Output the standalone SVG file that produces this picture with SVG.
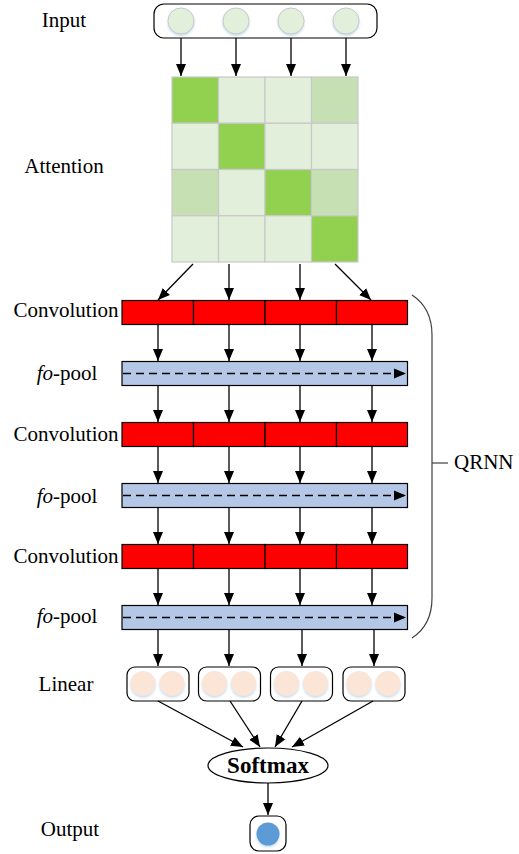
<svg xmlns="http://www.w3.org/2000/svg" width="519" height="854" viewBox="0 0 519 854">
<style>
.lbl{font-family:"Liberation Serif","Times New Roman",serif;font-size:21px;fill:#000;text-anchor:middle}
.box{fill:#fff;stroke:#000;stroke-width:1.2}
.conv{fill:#ff0000;stroke:#000;stroke-width:1.2}
.pool{fill:#b4c7e7;stroke:#000;stroke-width:1.2}
.cd{fill:#92d050;stroke:#c8c8c8;stroke-width:1.2}
.cl{fill:#e2efda;stroke:#c8c8c8;stroke-width:1.2}
.cm{fill:#c6e0b4;stroke:#c8c8c8;stroke-width:1.2}
.ic{fill:#e2efda;stroke:#c9c9c9;stroke-width:1}
.lc{fill:#fbe5d6;stroke:none}
.ar{stroke:#000;stroke-width:1.3;fill:none;marker-end:url(#ah)}
.dash{stroke:#000;stroke-width:1.3;fill:none;stroke-dasharray:8,5;marker-end:url(#ah)}
</style>
<defs>
<marker id="ah" markerUnits="userSpaceOnUse" markerWidth="14" markerHeight="14" viewBox="0 0 14 14" refX="12" refY="7" orient="auto">
<path d="M0,2 L12,7 L0,12 Z" fill="#000"/>
</marker>
<filter id="sh" x="-30%" y="-30%" width="160%" height="170%">
<feDropShadow dx="0" dy="1.5" stdDeviation="1.2" flood-color="#9dc3e6" flood-opacity="0.6"/>
</filter>
</defs>

<g id="labels">
<text class="lbl" x="64" y="27">Input</text>
<text class="lbl" x="64" y="173">Attention</text>
<text class="lbl" x="66" y="317">Convolution</text>
<text class="lbl" x="67" y="380"><tspan font-style="italic">fo</tspan>-pool</text>
<text class="lbl" x="66" y="441">Convolution</text>
<text class="lbl" x="67" y="503"><tspan font-style="italic">fo</tspan>-pool</text>
<text class="lbl" x="66" y="563">Convolution</text>
<text class="lbl" x="67" y="623"><tspan font-style="italic">fo</tspan>-pool</text>
<text class="lbl" x="66" y="691">Linear</text>
<text class="lbl" x="70" y="836">Output</text>
</g>

<g id="input">
<rect class="box" x="154" y="4" width="223" height="34" rx="10"/>
<g filter="url(#sh)">
<circle class="ic" cx="181" cy="21" r="13"/>
<circle class="ic" cx="236" cy="21" r="13"/>
<circle class="ic" cx="291" cy="21" r="13"/>
<circle class="ic" cx="346" cy="21" r="13"/>
</g>
</g>

<g id="attention">
<rect class="cd" x="172" y="77" width="46.5" height="46.25"/>
<rect class="cl" x="218.5" y="77" width="46.5" height="46.25"/>
<rect class="cl" x="265" y="77" width="46.5" height="46.25"/>
<rect class="cm" x="311.5" y="77" width="46.5" height="46.25"/>
<rect class="cl" x="172" y="123.25" width="46.5" height="46.25"/>
<rect class="cd" x="218.5" y="123.25" width="46.5" height="46.25"/>
<rect class="cl" x="265" y="123.25" width="46.5" height="46.25"/>
<rect class="cl" x="311.5" y="123.25" width="46.5" height="46.25"/>
<rect class="cm" x="172" y="169.5" width="46.5" height="46.25"/>
<rect class="cl" x="218.5" y="169.5" width="46.5" height="46.25"/>
<rect class="cd" x="265" y="169.5" width="46.5" height="46.25"/>
<rect class="cm" x="311.5" y="169.5" width="46.5" height="46.25"/>
<rect class="cl" x="172" y="215.75" width="46.5" height="46.25"/>
<rect class="cl" x="218.5" y="215.75" width="46.5" height="46.25"/>
<rect class="cl" x="265" y="215.75" width="46.5" height="46.25"/>
<rect class="cd" x="311.5" y="215.75" width="46.5" height="46.25"/>
</g>

<g id="conv1">
<rect class="conv" x="122" y="300.5" width="71.5" height="24"/>
<rect class="conv" x="193.5" y="300.5" width="71.5" height="24"/>
<rect class="conv" x="265" y="300.5" width="71.5" height="24"/>
<rect class="conv" x="336.5" y="300.5" width="71" height="24"/>
</g>
<g id="pool1">
<rect class="pool" x="122" y="361.5" width="285.5" height="24"/>
<line class="dash" x1="123" y1="373.5" x2="406" y2="373.5"/>
</g>
<g id="conv2">
<rect class="conv" x="122" y="422.5" width="71.5" height="24"/>
<rect class="conv" x="193.5" y="422.5" width="71.5" height="24"/>
<rect class="conv" x="265" y="422.5" width="71.5" height="24"/>
<rect class="conv" x="336.5" y="422.5" width="71" height="24"/>
</g>
<g id="pool2">
<rect class="pool" x="122" y="483.5" width="285.5" height="24"/>
<line class="dash" x1="123" y1="495.5" x2="406" y2="495.5"/>
</g>
<g id="conv3">
<rect class="conv" x="122" y="544.5" width="71.5" height="24"/>
<rect class="conv" x="193.5" y="544.5" width="71.5" height="24"/>
<rect class="conv" x="265" y="544.5" width="71.5" height="24"/>
<rect class="conv" x="336.5" y="544.5" width="71" height="24"/>
</g>
<g id="pool3">
<rect class="pool" x="122" y="605.5" width="285.5" height="24"/>
<line class="dash" x1="123" y1="617.5" x2="406" y2="617.5"/>
</g>

<g id="linear">
<rect class="box" x="127" y="667" width="62" height="34" rx="8"/>
<rect class="box" x="198.5" y="667" width="62" height="34" rx="8"/>
<rect class="box" x="270.5" y="667" width="62" height="34" rx="8"/>
<rect class="box" x="343" y="667" width="62" height="34" rx="8"/>
<g filter="url(#sh)">
<circle class="lc" cx="143" cy="683.5" r="12.5"/>
<circle class="lc" cx="172" cy="683.5" r="12.5"/>
<circle class="lc" cx="214.5" cy="683.5" r="12.5"/>
<circle class="lc" cx="243.5" cy="683.5" r="12.5"/>
<circle class="lc" cx="286.5" cy="683.5" r="12.5"/>
<circle class="lc" cx="315.5" cy="683.5" r="12.5"/>
<circle class="lc" cx="359" cy="683.5" r="12.5"/>
<circle class="lc" cx="388" cy="683.5" r="12.5"/>
</g>
</g>

<g id="softmax">
<ellipse cx="268" cy="765.5" rx="60" ry="17.5" fill="#fff" stroke="#000" stroke-width="1.2"/>
<text x="268" y="773" font-family="Liberation Serif, Times New Roman, serif" font-size="23" font-weight="bold" text-anchor="middle">Softmax</text>
</g>

<g id="output">
<rect class="box" x="250" y="816" width="36" height="35" rx="9"/>
<circle cx="268" cy="834" r="11.5" fill="#5b9bd5" filter="url(#sh)"/>
</g>

<g id="qrnn">
<path d="M412,295 Q432,308 432,335 L432,598 Q432,625 412,638" fill="none" stroke="#404040" stroke-width="1.2"/>
<line x1="432" y1="463" x2="448" y2="463" stroke="#404040" stroke-width="1.2"/>
<text x="454" y="469" font-family="Liberation Serif, Times New Roman, serif" font-size="21">QRNN</text>
</g>

<g id="connectors">
<line class="ar" x1="181" y1="38" x2="181" y2="76"/>
<line class="ar" x1="236" y1="38" x2="236" y2="76"/>
<line class="ar" x1="291" y1="38" x2="291" y2="76"/>
<line class="ar" x1="346" y1="38" x2="346" y2="76"/>

<line class="ar" x1="193" y1="264" x2="158" y2="300"/>
<line class="ar" x1="229" y1="264" x2="229" y2="300"/>
<line class="ar" x1="300" y1="264" x2="300" y2="300"/>
<line class="ar" x1="335" y1="264" x2="371" y2="300"/>

<line class="ar" x1="158" y1="324.5" x2="158" y2="361"/>
<line class="ar" x1="229" y1="324.5" x2="229" y2="361"/>
<line class="ar" x1="300" y1="324.5" x2="300" y2="361"/>
<line class="ar" x1="372" y1="324.5" x2="372" y2="361"/>

<line class="ar" x1="158" y1="385.5" x2="158" y2="422"/>
<line class="ar" x1="229" y1="385.5" x2="229" y2="422"/>
<line class="ar" x1="300" y1="385.5" x2="300" y2="422"/>
<line class="ar" x1="372" y1="385.5" x2="372" y2="422"/>

<line class="ar" x1="158" y1="446.5" x2="158" y2="483"/>
<line class="ar" x1="229" y1="446.5" x2="229" y2="483"/>
<line class="ar" x1="300" y1="446.5" x2="300" y2="483"/>
<line class="ar" x1="372" y1="446.5" x2="372" y2="483"/>

<line class="ar" x1="158" y1="507.5" x2="158" y2="544"/>
<line class="ar" x1="229" y1="507.5" x2="229" y2="544"/>
<line class="ar" x1="300" y1="507.5" x2="300" y2="544"/>
<line class="ar" x1="372" y1="507.5" x2="372" y2="544"/>

<line class="ar" x1="158" y1="568.5" x2="158" y2="605"/>
<line class="ar" x1="229" y1="568.5" x2="229" y2="605"/>
<line class="ar" x1="300" y1="568.5" x2="300" y2="605"/>
<line class="ar" x1="372" y1="568.5" x2="372" y2="605"/>

<line class="ar" x1="158" y1="629.5" x2="158" y2="666"/>
<line class="ar" x1="229" y1="629.5" x2="229" y2="666"/>
<line class="ar" x1="302" y1="629.5" x2="302" y2="666"/>
<line class="ar" x1="374" y1="629.5" x2="374" y2="666"/>

<line class="ar" x1="158" y1="701" x2="243" y2="747"/>
<line class="ar" x1="230" y1="701" x2="260" y2="747"/>
<line class="ar" x1="302" y1="701" x2="275" y2="747"/>
<line class="ar" x1="373" y1="701" x2="292" y2="747"/>

<line class="ar" x1="268" y1="783" x2="268" y2="815"/>
</g>
</svg>
